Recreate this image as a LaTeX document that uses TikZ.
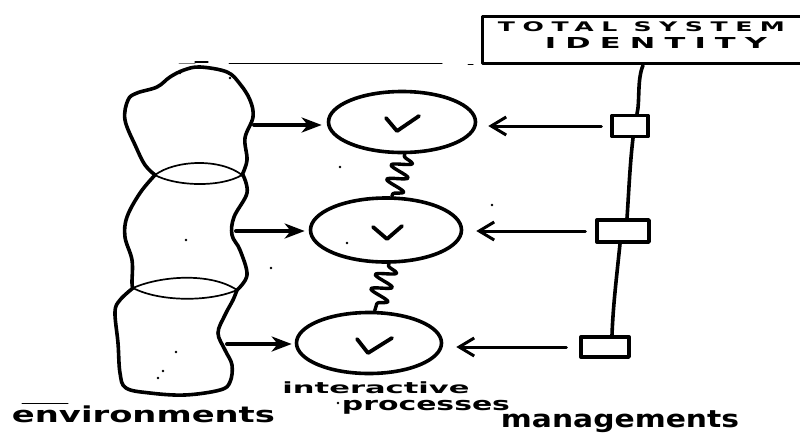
\documentclass[tikz,border=0pt]{standalone}
\usepackage{fontspec}
\newfontfamily\hand{DejaVu Sans}
\newfontfamily\capsfont{DejaVu Sans}[LetterSpace=30.0]
\usetikzlibrary{arrows.meta,decorations.pathmorphing,calc,shapes.geometric}
\begin{document}
\begin{tikzpicture}[x=1pt,y=-1pt,line join=round,line cap=round,
  outline/.style={line width=3.6pt},
  lens/.style={line width=1.7pt},
  proc/.style={ellipse,draw,line width=3.6pt,inner sep=0pt},
  mgmt/.style={rectangle,draw,line width=3.4pt,inner sep=0pt},
  inarrow/.style={line width=4pt,-{Stealth[length=20pt,width=15pt,inset=6pt]}},
  outarrow/.style={line width=3pt,-{Straight Barb[length=15pt,width=18pt]}},
  spring/.style={line width=3.4pt,decorate,decoration={snake,amplitude=10pt,segment length=15pt,pre length=2pt,post length=2pt}},
  check/.style={line width=3.8pt},
  speck/.style={fill=black,draw=none},
  thinline/.style={line width=1pt},
  lbl/.style={inner sep=0pt,font=\hand\bfseries}]
\useasboundingbox (0,0) rectangle (800,437);
\clip (0,0) rectangle (800,437);
\fill[white] (0,0) rectangle (800,437);

% stray thin lines at top
\draw[thinline,gray] (179,63) -- (195,63);
\draw[line width=1.3pt] (195,62) -- (208,62);
\draw[thinline] (229,63) -- (442,63);
\draw[thinline] (468,64) -- (473,64);

% environments blobs
\draw[outline] plot[smooth,tension=0.6] coordinates {(155,175) (145,165) (136,147) (125,120) (128,100) (137,93) (157,87) (170,77) (184,70) (200,67) (227,72) (240,84) (250,100) (253,117) (245,138) (247,160) (242,175)};
\draw[lens] (155,175) .. controls (175,186) and (220,188) .. (242,175);
\draw[lens] (155,175) .. controls (175,160) and (220,158) .. (242,175);
\draw[outline] plot[smooth,tension=0.6] coordinates {(155,175) (140,193) (127,217) (125,237) (132,260) (132,283) (133,288)};
\draw[outline] plot[smooth,tension=0.6] coordinates {(243,175) (247,193) (234,217) (232,235) (240,250) (247,275) (237,290)};
\draw[lens] (133,288) .. controls (160,302) and (210,302) .. (237,290);
\draw[lens] (133,288) .. controls (160,276) and (210,272) .. (237,290);
\draw[outline] plot[smooth,tension=0.6] coordinates {(133,288) (120,300) (115,312) (118,343) (120,373) (126,388) (150,393) (185,395) (220,390) (230,382) (232,365) (225,350) (218,333) (225,315) (233,300) (237,290)};

\coordinate (b1) at (254,125);
\coordinate (b2) at (236,231);
\coordinate (b3) at (227,344);

% processes
\node[proc,minimum width=147pt,minimum height=61pt] (e1) at (402,122) {};
\node[proc,minimum width=151pt,minimum height=64pt] (e2) at (386,230) {};
\node[proc,minimum width=145pt,minimum height=61pt] (e3) at (369,343) {};

\draw[check] (386,118) -- (397,131) -- (419,116);
\draw[check] (373,227) -- (387,239) -- (402,226);
\draw[check] (357,339) -- (368,353) -- (392,338);

\draw[spring] (e1.-85) -- (e2.80);
\draw[spring] (e2.-85) -- (e3.80);

% managements
\node[mgmt,minimum width=36pt,minimum height=21pt] (m1) at (630,126) {};
\node[mgmt,minimum width=52pt,minimum height=22pt] (m2) at (623,231) {};
\node[mgmt,minimum width=48pt,minimum height=20pt] (m3) at (605,347) {};

% total system identity
\node[draw,line width=3.4pt,minimum width=360pt,minimum height=47pt,anchor=north west,inner sep=0pt] (T) at (481,15) {};
\node[lbl,anchor=center] (t1) at (641.5,27) {\resizebox*{287pt}{10pt}{\capsfont\bfseries TOTAL SYSTEM}};
\node[lbl,anchor=center] (t2) at (656,43) {\resizebox*{222pt}{11pt}{\capsfont\bfseries IDENTITY}};

\draw[outline] ($(T.south west)+(162,0)$) .. controls +(-6,14) and +(3,-12) .. ($(m1.north)+(7,0)$);
\draw[outline] ($(m1.south)+(3,0)$) .. controls +(-3,25) and +(2,-30) .. ($(m2.north)+(4,0)$);
\draw[outline] ($(m2.south)+(-3,0)$) .. controls +(-3,30) and +(1,-30) .. ($(m3.north)+(7,0)$);

% arrows in
\draw[inarrow,shorten >=5pt] (b1) -- (b1 -| e1.west);
\draw[inarrow,shorten >=4pt] (b2) -- (b2 -| e2.west);
\draw[inarrow,shorten >=3pt] (b3) -- (b3 -| e3.west);
% arrows from managements
\draw[outarrow,shorten <=9pt,shorten >=11pt] (m1.west) -- (m1.west -| e1.east);
\draw[outarrow,shorten <=10pt,shorten >=13pt] (m2.west) -- (m2.west -| e2.east);
\draw[outarrow,shorten <=13pt,shorten >=13pt] (m3.west) -- (m3.west -| e3.east);

% specks
\foreach \p in {(180,73),(230,78),(340,167),(186,240),(271,268),(347,243),(176,352),(163,371),(158,378),(492,205),(338,403)}
  \fill[speck] \p circle (1.3pt);

% labels
\draw[thinline] (22,403) -- (68,403);
\node[lbl] (env) at (143.5,414) {\resizebox*{263pt}{17pt}{environments}};
\node[lbl] (ip1) at (376,388) {\resizebox*{187pt}{12pt}{interactive}};
\node[lbl] (ip2) at (426,407.5) {\resizebox*{168pt}{14pt}{processes}};
\node[lbl] (mg) at (620,421.5) {\resizebox*{238pt}{22pt}{managements}};
\end{tikzpicture}
\end{document}
